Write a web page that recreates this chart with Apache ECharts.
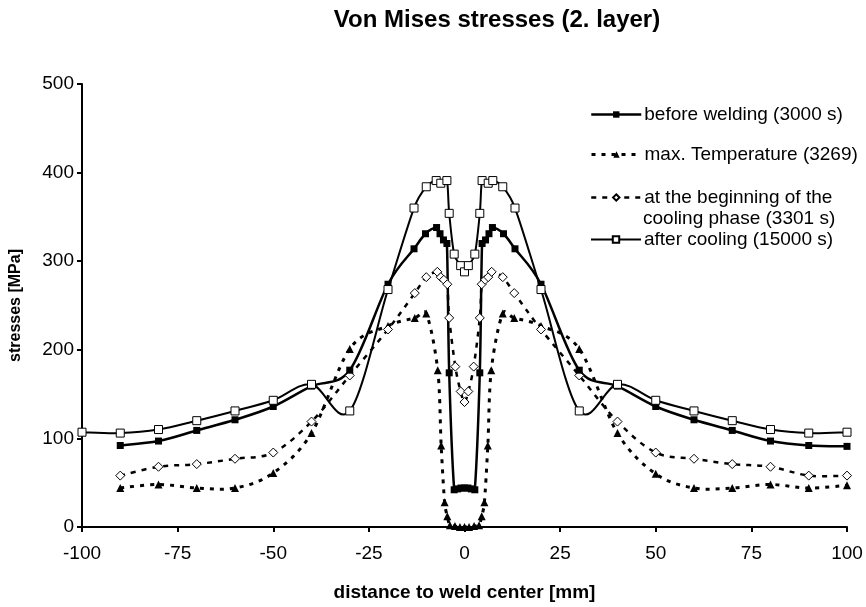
<!DOCTYPE html>
<html>
<head>
<meta charset="utf-8">
<script src="https://cdn.jsdelivr.net/npm/echarts@6/dist/echarts.min.js"></script>
<style>html,body{margin:0;padding:0;background:#fff}#c{width:866px;height:607px}</style>
</head>
<body>
<div id="c"></div>
<script>
// ---- data ----
const xTicks = [-100, -75, -50, -25, 0, 25, 50, 75, 100];
const yTicks = [0, 100, 200, 300, 400, 500];

const beforeWeldingX = [-90,-80,-70,-60,-50,-40,-30,-20,-13.2,-10.2,-7.3,-6.4,-5.5,-4.6,-4,-2.7,-1.8,-0.9,0,0.9,1.8,2.7,4,4.6,5.5,6.4,7.3,10.2,13.2,20,30,40,50,60,70,80,90,100];
const beforeWeldingY = [92,97,109,121,136,159,177,274,314,331,338,331,324,320,174,42,43,44,44,44,43,42,174,320,324,331,338,331,314,274,177,159,136,121,109,97,92,91];

const maxTempX = [-90,-80,-70,-60,-50,-40,-30,-20,-13,-10,-7,-6.1,-5.2,-4.5,-3.8,-2.5,-1.2,0,1.2,2.5,3.8,4.5,5.2,6.1,7,10,13,20,30,40,50,60,70,80,90,100];
const maxTempY = [44,48,44,44,61,106,201,227,236,241,177,92,28,12,2,1,0,0,0,1,2,12,28,92,177,241,236,227,201,106,60,44,44,48,44,47];

const coolStartX = [-90,-80,-70,-60,-50,-40,-30,-20,-13,-10,-7.1,-6.2,-5.4,-4.5,-4,-2.4,-1,0,1,2.4,4,4.5,5.4,6.2,7.1,10,13,20,30,40,50,60,70,80,90,100];
const coolStartY = [58,68,71,77,84,119,171,223,264,282,288,282,279,274,236,181,153,141,153,181,236,274,279,282,288,282,264,223,171,119,84,77,71,68,58,58];

const afterCoolX = [-100,-90,-80,-70,-60,-50,-40,-30,-20,-13.2,-10,-7.4,-6.2,-4.6,-4,-2.7,-1,0,1,2.7,4,4.6,6.2,7.4,10,13.2,20,30,40,50,60,70,80,90,100];
const afterCoolY = [107,106,110,120,131,143,161,131,268,360,384,391,388,391,354,308,295,288,295,308,354,391,388,391,384,360,268,131,161,143,131,120,110,106,107];

const names = [
  'before welding (3000 s)',
  'max. Temperature (3269)',
  'at the beginning of the cooling phase (3301 s)',
  'after cooling (15000 s)'
];

const pairs = (xs, ys) => xs.map((x, i) => [x, ys[i]]);
const FONT = '"Liberation Sans", Arial, sans-serif';

// Excel-style smoothed curve (Bezier, tension 1/6, control arm limited to half segment)
function smoothPath(api, xs, ys) {
  const p = xs.map((x, i) => api.coord([x, ys[i]]));
  const n = p.length;
  const d = (a, b) => Math.hypot(b[0] - a[0], b[1] - a[1]);
  let s = 'M' + p[0][0] + ' ' + p[0][1];
  for (let i = 0; i < n - 1; i++) {
    const p0 = p[Math.max(i - 1, 0)], p1 = p[i], p2 = p[i + 1], p3 = p[Math.min(i + 2, n - 1)];
    const d12 = d(p1, p2), d02 = d(p0, p2), d13 = d(p1, p3);
    let f1 = 1 / 6, f2 = 1 / 6;
    if (d02 / 6 >= d12 / 2 && d02 > 0) f1 = d12 / (2 * d02);
    if (d13 / 6 >= d12 / 2 && d13 > 0) f2 = d12 / (2 * d13);
    const c1 = [p1[0] + f1 * (p2[0] - p0[0]), p1[1] + f1 * (p2[1] - p0[1])];
    const c2 = [p2[0] - f2 * (p3[0] - p1[0]), p2[1] - f2 * (p3[1] - p1[1])];
    s += ' C' + c1[0] + ' ' + c1[1] + ' ' + c2[0] + ' ' + c2[1] + ' ' + p2[0] + ' ' + p2[1];
  }
  return s;
}

function curveSeries(xs, ys, width, dash) {
  return {
    type: 'custom', z: 1, silent: true, clip: false,
    data: [[xs[0], ys[0]]],
    renderItem: (params, api) => ({
      type: 'path',
      shape: {pathData: smoothPath(api, xs, ys)},
      style: {fill: 'none', stroke: '#000', lineWidth: width, lineDash: dash, lineCap: 'butt', lineJoin: 'round'}
    })
  };
}

const styles = [
  {w: 2.5, dash: null},
  {w: 3, dash: [4, 6]},
  {w: 2.5, dash: [5, 6]},
  {w: 2, dash: null}
];

const chart = echarts.init(document.getElementById('c'), null, {renderer: 'canvas'});

function legendAt(k, top, fmt) {
  return {
    data: [names[k]], left: 590, top: top, orient: 'horizontal',
    itemWidth: 50, itemHeight: 8, padding: 0, selectedMode: false,
    formatter: fmt || (n => n),
    lineStyle: {color: '#000', width: styles[k].w, type: styles[k].dash || 'solid', opacity: 1},
    textStyle: {fontFamily: FONT, fontSize: 19, color: '#000', padding: [0,0,0,-2]}
  };
}

function markerSeries(k, xs, ys, symbol, size, fill, border, z) {
  return {
    name: names[k], type: 'line', smooth: false, data: pairs(xs, ys),
    symbol: symbol, symbolSize: size, showAllSymbol: true,
    lineStyle: {color: '#000', width: styles[k].w, type: styles[k].dash || 'solid', opacity: 0},
    itemStyle: {color: fill, borderColor: '#000', borderWidth: border}, z: z
  };
}

chart.setOption({
  animation: false,
  backgroundColor: '#fff',
  title: {
    text: 'Von Mises stresses (2. layer)',
    left: 492, top: 3, textAlign: 'center',
    textStyle: {fontFamily: FONT, fontSize: 24, fontWeight: 'bold', color: '#000'}
  },
  grid: {left: 81, right: 19, top: 84, bottom: 76, containLabel: false},
  legend: [
    legendAt(0, 105),
    legendAt(1, 145),
    legendAt(2, 188, () => 'at the beginning of the'),
    legendAt(3, 230)
  ],
  graphic: [{
    type: 'text', left: 643, top: 209,
    style: {text: 'cooling phase (3301 s)', font: '19px ' + FONT, fill: '#000'}
  }],
  xAxis: {
    type: 'value', min: xTicks[0], max: xTicks[xTicks.length - 1], interval: 25,
    name: 'distance to weld center [mm]', nameLocation: 'middle', nameGap: 56,
    nameTextStyle: {fontFamily: FONT, fontSize: 19, fontWeight: 'bold', color: '#000'},
    axisLine: {onZero: false, lineStyle: {color: '#000', width: 2}},
    axisTick: {inside: false, length: 5, lineStyle: {color: '#000', width: 2}},
    axisLabel: {fontFamily: FONT, fontSize: 19, color: '#000', margin: 17},
    splitLine: {show: false}
  },
  yAxis: {
    type: 'value', min: yTicks[0], max: yTicks[yTicks.length - 1], interval: 100,
    name: 'stresses [MPa]', nameLocation: 'middle', nameGap: 58, nameRotate: 90,
    nameTextStyle: {fontFamily: FONT, fontSize: 16, fontWeight: 'bold', color: '#000'},
    axisLine: {show: true, onZero: false, lineStyle: {color: '#000', width: 2}},
    axisTick: {show: true, inside: false, length: 5, lineStyle: {color: '#000', width: 2}},
    axisLabel: {fontFamily: FONT, fontSize: 19, color: '#000', margin: 8},
    splitLine: {show: false}
  },
  series: [
    curveSeries(maxTempX, maxTempY, styles[1].w, styles[1].dash),
    curveSeries(coolStartX, coolStartY, styles[2].w, styles[2].dash),
    curveSeries(beforeWeldingX, beforeWeldingY, styles[0].w, styles[0].dash),
    curveSeries(afterCoolX, afterCoolY, styles[3].w, styles[3].dash),
    markerSeries(0, beforeWeldingX, beforeWeldingY, 'rect', 7, '#000', 0, 4),
    markerSeries(1, maxTempX, maxTempY, 'triangle', 8, '#000', 0, 3),
    markerSeries(2, coolStartX, coolStartY, 'diamond', 9, '#fff', 1, 3),
    markerSeries(3, afterCoolX, afterCoolY, 'rect', 8, '#fff', 1, 5)
  ]
});
</script>
</body>
</html>
